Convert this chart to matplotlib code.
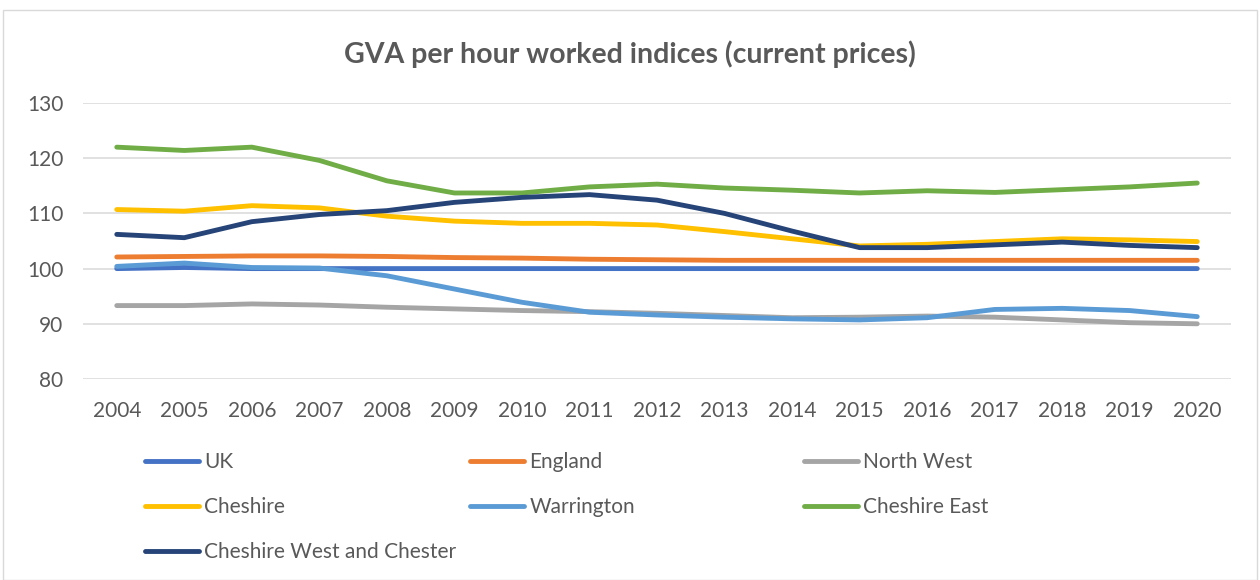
import matplotlib
matplotlib.use("Agg")
import matplotlib.pyplot as plt
from matplotlib.patches import Rectangle

plt.rcParams['font.family'] = ['Lato', 'DejaVu Sans']

years = list(range(2004, 2021))
uk = [100.0, 100.2, 100.0, 100.0, 100.0, 100.0, 100.0, 100.0, 100.0,
      100.0, 100.0, 100.0, 100.0, 100.0, 100.0, 100.0, 100.0]
england = [102.1, 102.2, 102.3, 102.3, 102.2, 102.0, 101.9, 101.7, 101.6,
           101.5, 101.5, 101.5, 101.5, 101.5, 101.5, 101.5, 101.5]
north_west = [93.3, 93.3, 93.6, 93.4, 93.0, 92.7, 92.4, 92.2, 91.9,
              91.5, 91.1, 91.2, 91.4, 91.2, 90.7, 90.2, 90.0]
cheshire = [110.7, 110.4, 111.4, 111.0, 109.5, 108.6, 108.2, 108.2, 107.9,
            106.7, 105.4, 104.1, 104.4, 104.9, 105.4, 105.2, 104.9]
warrington = [100.4, 101.0, 100.2, 100.1, 98.7, 96.3, 93.9, 92.1, 91.6,
              91.2, 90.9, 90.7, 91.1, 92.6, 92.8, 92.4, 91.3]
cheshire_east = [122.0, 121.4, 122.0, 119.6, 115.9, 113.7, 113.7, 114.8, 115.3,
                 114.6, 114.2, 113.7, 114.1, 113.8, 114.3, 114.8, 115.5]
cwac = [106.2, 105.6, 108.5, 109.8, 110.5, 112.0, 112.9, 113.4, 112.4,
        110.0, 106.8, 103.8, 103.8, 104.3, 104.8, 104.2, 103.8]

series = [
    ("UK", uk, "#4472C4"),
    ("England", england, "#ED7D31"),
    ("North West", north_west, "#A5A5A5"),
    ("Cheshire", cheshire, "#FFC000"),
    ("Warrington", warrington, "#5B9BD5"),
    ("Cheshire East", cheshire_east, "#70AD47"),
    ("Cheshire West and Chester", cwac, "#264478"),
]

txt = "#595959"
fig = plt.figure(figsize=(12.6, 5.8), dpi=100)
fig.patches.append(Rectangle((3 / 1260, 0), 1254 / 1260, 570 / 580, transform=fig.transFigure,
                             fill=False, edgecolor="#D9D9D9", linewidth=1.0))
ax = fig.add_axes([83 / 1260, 1 - 379 / 580, 1148 / 1260, 276 / 580])

lines = {}
for name, vals, col in series:
    ln, = ax.plot(years, vals, color=col, linewidth=3.5, solid_capstyle="round", label=name)
    lines[name] = ln

ax.set_xlim(2003.5, 2020.5)
ax.set_ylim(80, 130)
ax.set_yticks(range(80, 131, 10))
ax.set_xticks(years)
ax.grid(axis="y", color="#D9D9D9", linewidth=1.1)
ax.set_axisbelow(True)
for s in ax.spines.values():
    s.set_visible(False)
ax.tick_params(axis="both", length=0, labelsize=15, labelcolor=txt)
ax.tick_params(axis="y", pad=14)
ax.tick_params(axis="x", pad=16)

fig.text(0.5, 1 - 54 / 580, "GVA per hour worked indices (current prices)", ha="center", va="center",
         fontsize=20.5, fontweight="bold", color=txt)

# legend laid out row-wise like Excel: three columns placed by hand
cols = [(["UK", "Cheshire", "Cheshire West and Chester"], 145),
        (["England", "Warrington"], 470),
        (["North West", "Cheshire East"], 804)]
for names, x in cols:
    leg = fig.legend([lines[n] for n in names], names, loc="upper left",
                     bbox_to_anchor=(x / 1260, 1 - 452 / 580), frameon=False,
                     fontsize=15, handlelength=2.6, handletextpad=0.25,
                     labelspacing=1.2, borderpad=0, borderaxespad=0)
    for t in leg.get_texts():
        t.set_color(txt)

fig.savefig("out.png", dpi=100)
